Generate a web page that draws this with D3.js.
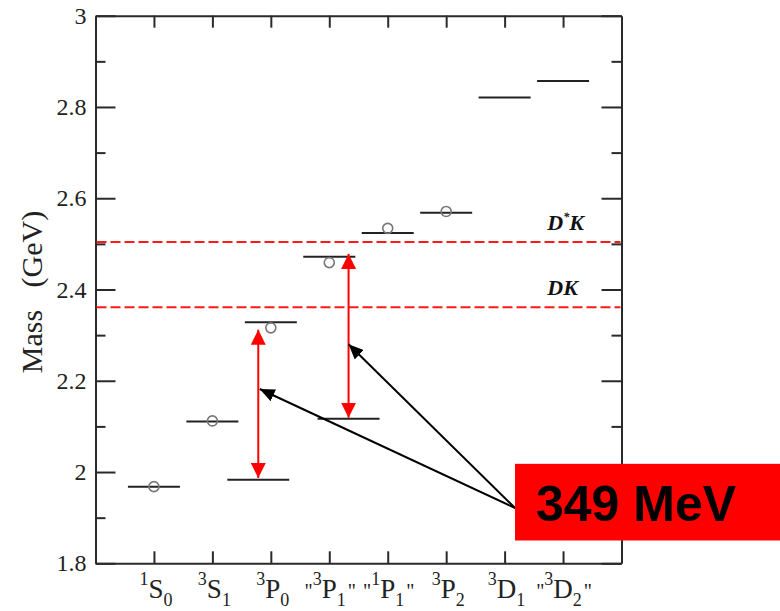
<!DOCTYPE html>
<html><head><meta charset="utf-8">
<script src="https://cdn.jsdelivr.net/npm/d3@7"></script>
<style>body{margin:0;background:#fff}svg{display:block}</style>
</head><body><svg id="c" width="780" height="611"></svg>
<script>
// ---- data ----
const labelSup   = ["1","3","3","3","1","3","3","3"];
const labelMain  = ["S","S","P","P","P","P","D","D"];
const labelSub   = ["0","1","0","1","1","2","1","2"];
const labelQuote = [false,false,false,true,true,false,false,true];
const modelMass  = [1.968, 2.111, 2.328, 2.472, 2.524, 2.568, 2.821, 2.857];
const exptMass   = [1.968, 2.112, 2.316, 2.459, 2.534, 2.571, null, null];
const shiftedPos  = [2.785, 4.33];
const shiftedMass = [1.983, 2.117];
const thresholdName = ["DK", "D*K"];
const thresholdMass = [2.361, 2.504];
const gapPos  = [2.785, 4.33];
const gapFrom = [1.987, 2.119];
const gapTo   = [2.312, 2.478];
const pointerFrom = [7.18, 1.921];
const pointerTipPos  = [2.81, 4.33];
const pointerTipMass = [2.182, 2.280];
const calloutText = "349 MeV";
const calloutPos = 7.178, calloutTop = 2.018, calloutBottom = 1.850;
const yMajor = [1.8, 2.0, 2.2, 2.4, 2.6, 2.8, 3.0];
const yMinor = [1.9, 2.1, 2.3, 2.5, 2.7, 2.9];
const yTickLabels = ["1.8","2","2.2","2.4","2.6","2.8","3"];

// ---- layout ----
const W = 780, H = 611;
const L = 95.5, R = 621.5, T = 15.7, B = 563.3;
const serif = "'Liberation Serif','Times New Roman',serif";
const svg = d3.select("#c");
const x = d3.scaleLinear().domain([0, 9]).range([L, R]);
const y = d3.scaleLinear().domain([1.8, 3.0]).range([B, T]);
const idx = d3.range(1, 9);
const frameColor = "#2a2a2a";

function styleAxis(g){
  g.selectAll(".domain").attr("stroke", frameColor).attr("stroke-width", 2);
  g.selectAll(".tick line").attr("stroke", frameColor).attr("stroke-width", 2);
}
// left
const leftAx = svg.append("g").attr("transform",`translate(${L},0)`)
  .call(d3.axisLeft(y).tickValues(yMajor).tickSizeInner(-20).tickSizeOuter(0).tickPadding(9)
    .tickFormat((d,i)=>yTickLabels[i]))
  .call(styleAxis);
leftAx.attr("font-family", null).attr("font-size", null);
leftAx.selectAll(".tick text").style("font-family",serif).style("font-size","24px").attr("fill","#222");
svg.append("g").attr("transform",`translate(${L},0)`)
  .call(d3.axisLeft(y).tickValues(yMinor).tickSizeInner(-10).tickSizeOuter(0).tickFormat(""))
  .call(styleAxis).call(g=>g.select(".domain").remove());
// right
svg.append("g").attr("transform",`translate(${R},0)`)
  .call(d3.axisRight(y).tickValues(yMajor).tickSizeInner(-20).tickSizeOuter(0).tickFormat(""))
  .call(styleAxis);
svg.append("g").attr("transform",`translate(${R},0)`)
  .call(d3.axisRight(y).tickValues(yMinor).tickSizeInner(-10).tickSizeOuter(0).tickFormat(""))
  .call(styleAxis).call(g=>g.select(".domain").remove());
// top / bottom
svg.append("g").attr("transform",`translate(0,${T})`)
  .call(d3.axisTop(x).tickValues(idx).tickSizeInner(-12).tickSizeOuter(0).tickFormat(""))
  .call(styleAxis);
svg.append("g").attr("transform",`translate(0,${B})`)
  .call(d3.axisBottom(x).tickValues(idx).tickSizeInner(-12).tickSizeOuter(0).tickFormat(""))
  .call(styleAxis);

// x labels
const xl = svg.append("g").style("font-family", serif).attr("fill","#222");
idx.forEach((p,i)=>{
  const t = xl.append("text").attr("x", x(p)+2).attr("y", 598).attr("text-anchor","middle").style("font-size","27px");
  if (labelQuote[i]) t.append("tspan").text('"').style("font-size","20px").attr("dx",-1);
  t.append("tspan").text(labelSup[i]).style("font-size","18px").attr("dy",-13);
  t.append("tspan").text(labelMain[i]).attr("dy",13);
  t.append("tspan").text(labelSub[i]).style("font-size","18px").attr("dy",8);
  if (labelQuote[i]) t.append("tspan").text('"').style("font-size","20px").attr("dx",2).attr("dy",-8);
});

// y label
svg.append("text").attr("transform",`translate(42,${292}) rotate(-90)`)
  .attr("text-anchor","middle").style("font-family",serif).style("font-size","30px").attr("fill","#222")
  .style("white-space","pre").text("Mass\u00a0\u00a0\u00a0(GeV)");

// thresholds
svg.append("g").selectAll("line").data(thresholdMass).join("line")
  .attr("x1", L+1).attr("x2", R-1).attr("y1", d=>y(d)).attr("y2", d=>y(d))
  .attr("stroke","#ff1a1a").attr("stroke-width",2).attr("stroke-dasharray","10,4");
thresholdName.forEach((n,i)=>{
  const t = svg.append("text").attr("x", x(7.73)).attr("y", y(thresholdMass[i]) - 12)
    .style("font-family",serif).attr("font-style","italic").attr("font-weight","bold")
    .style("font-size","22px").attr("fill","#111");
  if (n.includes("*")) {
    t.append("tspan").text("D");
    t.append("tspan").text("*").style("font-size","12px").attr("dy",-9);
    t.append("tspan").text("K").attr("dy",9);
  } else t.text(n);
});

// levels
const lv = svg.append("g").attr("stroke","#222").attr("stroke-width",2);
const hw = 0.445;
lv.selectAll("line.m").data(modelMass).join("line").attr("class","m")
  .attr("x1",(d,i)=>x(i+1-hw)).attr("x2",(d,i)=>x(i+1+hw))
  .attr("y1",d=>y(d)).attr("y2",d=>y(d));
lv.selectAll("line.s").data(shiftedMass).join("line").attr("class","s")
  .attr("x1",(d,i)=>x(shiftedPos[i]-0.53)).attr("x2",(d,i)=>x(shiftedPos[i]+0.53))
  .attr("y1",d=>y(d)).attr("y2",d=>y(d));
// experimental points
svg.append("g").selectAll("circle").data(exptMass.map((m,i)=>({m,i})).filter(d=>d.m!==null)).join("circle")
  .attr("cx",d=>x(d.i+1)).attr("cy",d=>y(d.m)).attr("r",5)
  .attr("fill","none").attr("stroke","#777").attr("stroke-width",1.6);

// markers
const defs = svg.append("defs");
defs.append("marker").attr("id","redHead").attr("viewBox","0 0 15 15")
  .attr("refX",15).attr("refY",7.5).attr("markerWidth",15).attr("markerHeight",15)
  .attr("markerUnits","userSpaceOnUse").attr("orient","auto-start-reverse")
  .append("path").attr("d","M0,0L15,7.5L0,15Z").attr("fill","#ff0000");
defs.append("marker").attr("id","blackHead").attr("viewBox","0 0 15 13")
  .attr("refX",15).attr("refY",6.5).attr("markerWidth",15).attr("markerHeight",13)
  .attr("markerUnits","userSpaceOnUse").attr("orient","auto")
  .append("path").attr("d","M0,0L15,6.5L0,13Z").attr("fill","#000");

// red gap arrows
svg.append("g").selectAll("line").data(gapPos).join("line")
  .attr("x1",d=>x(d)).attr("x2",d=>x(d))
  .attr("y1",(d,i)=>y(gapFrom[i])).attr("y2",(d,i)=>y(gapTo[i]))
  .attr("stroke","#ff0000").attr("stroke-width",2)
  .attr("marker-start","url(#redHead)").attr("marker-end","url(#redHead)");

// black pointer arrows
svg.append("g").selectAll("line").data(pointerTipPos).join("line")
  .attr("x1",x(pointerFrom[0])).attr("y1",y(pointerFrom[1]))
  .attr("x2",d=>x(d)).attr("y2",(d,i)=>y(pointerTipMass[i]))
  .attr("stroke","#000").attr("stroke-width",2).attr("marker-end","url(#blackHead)");

// callout
svg.append("rect").attr("x",x(calloutPos)).attr("y",y(calloutTop))
  .attr("width",W - x(calloutPos)).attr("height",y(calloutBottom)-y(calloutTop))
  .attr("fill","#ff0000");
svg.append("text").attr("x",x(calloutPos)+21).attr("y",y(calloutBottom)-19)
  .style("font-family","'Liberation Sans',Arial,sans-serif").attr("font-weight","bold")
  .style("font-size","50px").attr("fill","#000").text(calloutText);
</script></body></html>
